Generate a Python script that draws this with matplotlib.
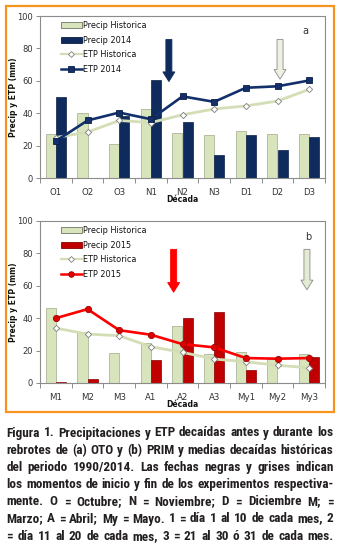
import matplotlib
matplotlib.use("Agg")
import matplotlib.pyplot as plt
from matplotlib import font_manager
import numpy as np
from matplotlib.patches import Rectangle, Patch
from matplotlib.lines import Line2D

# ---------------- data ----------------
cats_a = ["O1", "O2", "O3", "N1", "N2", "N3", "D1", "D2", "D3"]
precip_hist_a = [27, 40, 21, 42.5, 27.5, 26.5, 29, 27.3, 27.3]
precip_2014 = [49.8, 0.3, 38.5, 60.5, 34.6, 14, 26.6, 17, 25.2]
etp_hist_a = [25, 28.3, 35.5, 34.2, 39, 42.6, 44.5, 47.5, 54.7]
etp_2014 = [22.8, 35.5, 40.4, 36.3, 50.4, 47, 55.7, 56.6, 60.2]

cats_b = ["M1", "M2", "M3", "A1", "A2", "A3", "My1", "My2", "My3"]
precip_hist_b = [46, 31.5, 18.3, 25, 34.9, 17.7, 18.9, 15, 17.9]
precip_2015 = [0.5, 2.5, 0, 14.2, 40, 44.1, 7.8, 0, 16]
etp_hist_b = [33.9, 30.2, 29.2, 22.4, 18.9, 14.8, 13.1, 10.9, 9.4]
etp_2015 = [40, 45.6, 32.6, 29.8, 24, 22, 15.4, 15, 15.4]

yticks = [0, 20, 40, 60, 80, 100]

caption_lines = [
    "Figura 1. Precipitaciones y ETP decaídas antes y durante los",
    "rebrotes de (a) OTO y (b) PRIM y medias decaídas históricas",
    "del periodo 1990/2014. Las fechas negras y grises indican",
    "los momentos de inicio y fin de los experimentos respectiva-",
    "mente. O = Octubre; N = Noviembre; D = Diciembre M; =",
    "Marzo; A = Abril; My = Mayo. 1 = día 1 al 10 de cada mes, 2",
    "= día 11 al 20 de cada mes, 3 = 21 al 30 ó 31 de cada mes.",
]

# ---------------- figure ----------------
W, H = 339, 547
DPI = 100
fig = plt.figure(figsize=(W / DPI, H / DPI), dpi=DPI)
fig.patch.set_facecolor("white")


def px_axes(left, top, right, bottom):
    return fig.add_axes([left / W, 1 - bottom / H, (right - left) / W, (bottom - top) / H])


C_HIST = "#d8e4bc"
C_HIST_E = "#9fa88a"
C_NAVY = "#0f2b5e"
C_DRED = "#c00000"
C_RED = "#ff0000"
C_ETPH = "#d3deb6"
TXT = "#333333"
SPINE = "#8c8c8c"


def style_axes(ax, cats):
    n = len(cats)
    ax.set_xlim(-0.5, n - 0.5)
    ax.set_ylim(0, 100)
    ax.set_yticks(yticks)
    ax.set_yticklabels([str(v) for v in yticks], fontsize=6, color=TXT)
    ax.set_xticks(np.arange(-0.5, n, 1.0))
    ax.set_xticklabels([])
    ax.set_xticks(np.arange(n), minor=True)
    ax.set_xticklabels(cats, minor=True, fontsize=6.2, color=TXT)
    ax.tick_params(axis="x", which="major", length=3.5, color=SPINE, width=0.7)
    ax.tick_params(axis="x", which="minor", length=0, pad=7)
    ax.tick_params(axis="y", length=3, color=SPINE, width=0.7, pad=2)
    for s in ax.spines.values():
        s.set_color(SPINE)
        s.set_linewidth(0.8)
    ax.set_ylabel("Precip y ETP (mm)", fontsize=5.5, fontweight="bold", color="#111111")
    ax.yaxis.set_label_coords(-22 / 285, 0.5)
    ax.text(0.5, -0.135, "Década", transform=ax.transAxes, ha="center", va="center",
            fontsize=5.5, fontweight="bold", color="#111111")


def draw_panel(ax, cats, ph, p2, eh, e2, c_bar, c_bar_e, c_line, mk, mk_fc, mk_ec, lab_p, lab_e, letter, lpos):
    x = np.arange(len(cats))
    bw = 0.32
    ax.bar(x - bw / 2, ph, width=bw, color=C_HIST, edgecolor=C_HIST_E, linewidth=0.5, zorder=2)
    ax.bar(x + bw / 2, p2, width=bw, color=c_bar, edgecolor=c_bar_e, linewidth=0.5, zorder=2)
    ax.plot(x, eh, color=C_ETPH, lw=2.0, marker="D", ms=3.2, mfc="white", mec="#7f7f7f", mew=0.6, zorder=3)
    ax.plot(x, e2, color=c_line, lw=1.9, marker=mk, ms=4.5, mfc=mk_fc, mec=mk_ec, mew=0.6, zorder=4)
    handles = [
        Patch(facecolor=C_HIST, edgecolor="#6f7560", linewidth=0.6),
        Patch(facecolor=c_bar, edgecolor=c_bar_e, linewidth=0.6),
        Line2D([], [], color=C_ETPH, lw=1.6, marker="D", ms=3, mfc="white", mec="#7f7f7f", mew=0.6),
        Line2D([], [], color=c_line, lw=1.8, marker=mk, ms=4, mfc=mk_fc, mec=mk_ec, mew=0.6),
    ]
    labels = ["Precip Historica", lab_p, "ETP Historica", lab_e]
    leg = ax.legend(handles, labels, loc="upper left", bbox_to_anchor=(0.055, 1.0), frameon=False,
                    fontsize=5.9, handlelength=2.6, handleheight=0.75, handletextpad=0.15,
                    labelspacing=0.7, borderaxespad=0.2)
    for t in leg.get_texts():
        t.set_color("#111111")
    ax.text(lpos[0], lpos[1], letter, transform=ax.transAxes, ha="center", va="center",
            fontsize=7, color=TXT)


def down_arrow(ax, x, ytop, ytip, fc, ec):
    ax.arrow(x, ytop, 0, ytip - ytop, width=0.19, head_width=0.38, head_length=6.0,
             length_includes_head=True, fc=fc, ec=ec, lw=0.6, zorder=5)


ax_a = px_axes(40, 16, 325, 178)
style_axes(ax_a, cats_a)
draw_panel(ax_a, cats_a, precip_hist_a, precip_2014, etp_hist_a, etp_2014,
           C_NAVY, "#0a1f45", "#13306b", "s", "#13306b", "#0a1f45",
           "Precip 2014", "ETP 2014", "a", (0.93, 0.905))
down_arrow(ax_a, 3.57, 85.5, 59.5, C_NAVY, C_NAVY)
down_arrow(ax_a, 7.08, 85.5, 61.0, "#eef2e2", "#8a8a8a")

ax_b = px_axes(40, 221, 325, 383)
style_axes(ax_b, cats_b)
draw_panel(ax_b, cats_b, precip_hist_b, precip_2015, etp_hist_b, etp_2015,
           C_DRED, "#8a0000", C_RED, "o", "#e00000", "#a00000",
           "Precip 2015", "ETP 2015", "b", (0.94, 0.90))
down_arrow(ax_b, 3.72, 82.5, 56.0, C_RED, C_RED)
down_arrow(ax_b, 7.93, 82.5, 57.5, "#e4ebd3", "#8a8a8a")

# orange frame
fig.patches.append(Rectangle((5.5 / W, 1 - 412 / H), (333.5 - 5.5) / W, (412 - 6) / H,
                             transform=fig.transFigure, fill=False, edgecolor="#f7941d",
                             linewidth=1.6))

# ---------------- caption (justified) ----------------
flist = font_manager.fontManager.ttflist
names = {f.name for f in flist}
cap_fam, cap_stretch = None, "normal"
for cand in ["Liberation Sans Narrow", "Roboto Condensed", "Open Sans Condensed",
             "Noto Sans Condensed", "DejaVu Sans Condensed", "Arial Narrow"]:
    if cand in names:
        cap_fam = [cand, "DejaVu Sans"]
        break
if cap_fam is None:
    for base in ["Roboto", "Open Sans", "Noto Sans", "Lato", "Inter", "DejaVu Sans"]:
        if any(f.name == base and f.stretch in ("condensed", "semi-condensed", "extra-condensed", 300, 400)
               for f in flist):
            cap_fam, cap_stretch = [base, "DejaVu Sans"], "condensed"
            break
if cap_fam is None:
    cap_fam = ["Roboto", "DejaVu Sans"]

x0, x1 = 6.5, 333.5
base0, step = 436.5, 17.2
renderer = fig.canvas.get_renderer()

fs = 10.0
probe = fig.text(0, 0, "", family=cap_fam, fontstretch=cap_stretch, fontweight="bold", fontsize=fs)
maxw = 0
for line in caption_lines:
    probe.set_text(line)
    maxw = max(maxw, probe.get_window_extent(renderer=renderer).width)
probe.remove()
fs = fs * (x1 - x0 - 3) / maxw
fs = min(fs, 11.0)

for i, line in enumerate(caption_lines):
    words = line.split(" ")
    yb = 1 - (base0 + i * step) / H
    objs, widths = [], []
    for w in words:
        t = fig.text(0, yb, w, ha="left", va="baseline", family=cap_fam, fontstretch=cap_stretch,
                     fontweight="bold", fontsize=fs, color="#231f20")
        objs.append(t)
        widths.append(t.get_window_extent(renderer=renderer).width)
    gap = (x1 - x0 - sum(widths)) / max(len(words) - 1, 1)
    xc = x0
    for t, wdt in zip(objs, widths):
        t.set_x(xc / W)
        xc += wdt + gap

fig.savefig("out.png", dpi=DPI, facecolor="white")
